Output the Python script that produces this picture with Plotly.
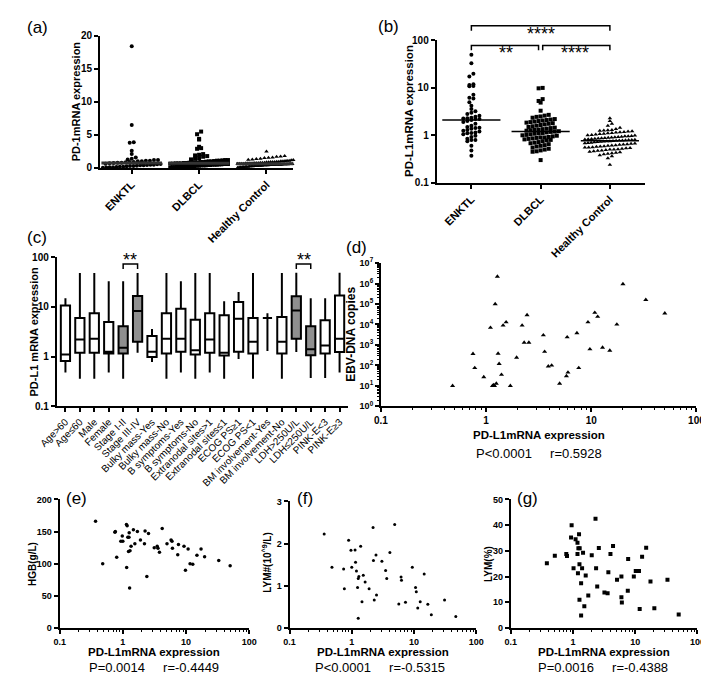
import numpy as np
import plotly.graph_objects as go

W, H = 709, 674


def fx(p):
    return p / W


def fy(p):
    return 1 - p / H


# ---------------- data ----------------
groups = ["ENKTL", "DLBCL", "Healthy Control"]

pd1_enktl = [18.4, 6.5, 3.9, 3.8, 2.6, 2.1, 1.6, 1.4, 1.3, 1.2, 1.2, 1.1, 1.1, 1.0, 1.0, 0.9,
             0.9, 0.85, 0.8, 0.8, 0.75, 0.7, 0.65, 0.6, 0.55, 0.5, 0.5, 0.45, 0.4, 0.4, 0.35,
             0.3, 0.3, 0.25, 0.2, 0.2, 0.15, 0.1, 0.1, 0.08, 0.05]
pd1_dlbcl = [5.5, 5.1, 4.4, 4.3, 3.2, 3.0, 2.9, 2.1, 2.0, 1.9, 1.8, 1.7, 1.5, 1.4, 1.3, 1.2,
             1.2, 1.15, 1.1, 1.1, 1.05, 1.0, 1.0, 0.95, 0.9, 0.9, 0.85, 0.85, 0.8, 0.8, 0.75,
             0.75, 0.7, 0.7, 0.7, 0.65, 0.65, 0.6, 0.6, 0.6, 0.55, 0.55, 0.5, 0.5, 0.5, 0.45,
             0.45, 0.4, 0.4, 0.4, 0.35, 0.35, 0.3, 0.3, 0.3, 0.25, 0.25, 0.2, 0.2, 0.15, 0.15,
             0.1, 0.1, 0.05]
pd1_hc = [2.5, 1.8, 1.75, 1.7, 1.6, 1.55, 1.5, 1.4, 1.35, 1.3, 1.25, 1.2, 1.2, 1.15, 1.1, 1.1,
          1.05, 1.0, 1.0, 0.95, 0.95, 0.9, 0.9, 0.9, 0.85, 0.85, 0.8, 0.8, 0.8, 0.75, 0.75,
          0.75, 0.7, 0.7, 0.7, 0.7, 0.65, 0.65, 0.65, 0.65, 0.6, 0.6, 0.6, 0.6, 0.6, 0.55,
          0.55, 0.55, 0.55, 0.5, 0.5, 0.5, 0.5, 0.5, 0.45, 0.45, 0.45, 0.45, 0.4, 0.4, 0.4,
          0.4, 0.35, 0.35, 0.35, 0.3, 0.3, 0.3, 0.25, 0.25, 0.25, 0.2, 0.2, 0.2, 0.15, 0.15,
          0.1, 0.1, 0.05]

pdl1_enktl = [50, 33, 20, 17.5, 12, 11.5, 11, 10.8, 7.2, 6.2, 6.0, 5.0, 4.2, 3.6, 3.2, 3.0,
              2.8, 2.6, 2.45, 2.35, 2.3, 2.25, 2.2, 2.2, 2.1, 2.0, 1.9, 1.75, 1.6, 1.5, 1.45,
              1.42, 1.38, 1.3, 1.25, 1.2, 1.15, 1.12, 1.1, 1.05, 0.98, 0.92, 0.85, 0.8, 0.8,
              0.75, 0.6, 0.48, 0.37]
pdl1_dlbcl = [10, 9.8, 5.8, 5.3, 4.9, 3.3, 2.7, 2.6, 2.5, 2.45, 2.35, 2.2, 2.15, 2.1, 2.05, 2.0,
              1.95, 1.9, 1.85, 1.8, 1.75, 1.7, 1.65, 1.6, 1.55, 1.5, 1.45, 1.42, 1.38, 1.35,
              1.32, 1.3, 1.28, 1.25, 1.22, 1.2, 1.18, 1.15, 1.12, 1.1, 1.08, 1.05, 1.02, 1.0,
              0.98, 0.95, 0.92, 0.9, 0.9, 0.88, 0.86, 0.84, 0.82, 0.8, 0.78, 0.75, 0.72, 0.7,
              0.68, 0.65, 0.62, 0.6, 0.58, 0.55, 0.52, 0.5, 0.48, 0.46, 0.45, 0.3]
pdl1_hc = [2.3, 2.0, 1.75, 1.6, 1.45, 1.35, 1.3, 1.28, 1.26, 1.24, 1.22, 1.2, 1.18, 1.16, 1.14,
           1.12, 1.1, 1.08, 1.06, 1.04, 1.02, 1.0, 0.99, 0.97, 0.96, 0.95, 0.93, 0.92, 0.91,
           0.9, 0.89, 0.88, 0.87, 0.86, 0.85, 0.84, 0.83, 0.82, 0.81, 0.8, 0.8, 0.79, 0.78,
           0.78, 0.77, 0.76, 0.75, 0.75, 0.74, 0.73, 0.72, 0.71, 0.7, 0.69, 0.68, 0.67, 0.66,
           0.65, 0.64, 0.63, 0.62, 0.61, 0.6, 0.59, 0.58, 0.57, 0.56, 0.55, 0.55, 0.54, 0.53,
           0.52, 0.51, 0.5, 0.5, 0.49, 0.48, 0.47, 0.46, 0.45, 0.44, 0.43, 0.42, 0.41, 0.4,
           0.38, 0.36, 0.33, 0.24]

clin_cats = ["Age>60", "Age≤60", "Male", "Female", "Stage I-II", "Stage III-IV",
             "Bulky mass-Yes", "Bulky mass-No", "B symptoms-Yes", "B symptoms-No",
             "Extranodal sites>1", "Extranodal sites≤1", "ECOG PS≥1", "ECOG PS<1",
             "BM involvement-Yes", "BM involvement-No", "LDH>250U/L", "LDH≤250U/L",
             "PINK-E<3", "PINK-E≥3"]
clin_min = [0.48, 0.36, 0.36, 0.48, 0.36, 1.2, 0.78, 0.36, 0.48, 0.36, 0.48, 0.36, 0.9, 0.36,
            1.3, 0.36, 1.24, 0.37, 0.37, 0.48]
clin_q1 = [0.82, 1.2, 1.2, 1.15, 1.15, 2.0, 0.98, 1.15, 1.25, 1.1, 1.2, 1.05, 1.25, 1.15,
           6.0, 1.15, 2.3, 1.06, 1.15, 1.24]
clin_med = [1.1, 2.2, 2.3, 1.25, 1.5, 8.3, 1.25, 2.3, 2.3, 1.35, 2.2, 1.2, 5.8, 2.0,
            6.0, 2.0, 8.5, 1.4, 1.67, 2.3]
clin_q3 = [10.7, 6.0, 7.5, 5.0, 4.1, 16.5, 2.6, 7.5, 9.2, 5.5, 7.5, 6.8, 12.5, 6.0,
           6.0, 6.3, 16.4, 4.1, 5.4, 17]
clin_max = [15, 48, 48, 33, 33, 48, 3.6, 48, 33, 48, 48, 13, 20, 48, 7.5, 48, 49, 15, 15, 49]
clin_shaded = [4, 5, 16, 17]

ebv_x = [0.48, 0.75, 0.78, 0.95, 1.1, 1.15, 1.18, 1.2, 1.22, 1.25, 1.28, 1.3, 1.33, 1.4, 1.45,
         1.55, 1.7, 1.95, 2.2, 2.3, 2.45, 2.55, 3.5, 3.6, 3.9, 4.2, 5.0, 5.8, 5.9, 6.0, 7.3,
         7.6, 9.3, 9.7, 10.8, 11.5, 12.8, 15, 17.5, 20, 33, 50]
ebv_y = [10, 370, 75, 27, 7000, 10, 11, 10, 100000, 13, 2200000, 380, 120, 35, 9000,
         13000, 10, 240, 9000, 1300, 29000, 1300, 3000, 470, 90, 100, 13, 30, 2400, 45, 3800,
         75, 13000, 620, 38000, 24000, 750, 530, 10000, 950000, 160000, 35000]

hgb_x = [0.37, 0.48, 0.75, 0.76, 0.8, 0.93, 0.98, 1.0, 1.14, 1.15, 1.17, 1.2, 1.23, 1.25,
         1.26, 1.28, 1.3, 1.35, 1.47, 1.55, 1.7, 1.9, 2.2, 2.25, 2.4, 2.55, 3.14, 3.5, 3.6,
         3.8, 4.2, 5.0, 5.8, 6.0, 6.1, 7.4, 7.6, 9.3, 9.8, 10.8, 11.6, 12.8, 14.9, 17.3,
         19.7, 33, 50]
hgb_y = [166, 100, 149, 150, 110, 135, 143, 135, 161, 94, 159, 141, 119, 141, 148, 62, 120,
         127, 153, 131, 150, 137, 131, 151, 80, 147, 125, 127, 124, 118, 155, 131, 137, 135,
         124, 114, 130, 127, 90, 123, 100, 99, 113, 123, 111, 105, 97]

lym_x = [0.36, 0.48, 0.74, 0.76, 0.89, 0.97, 1.0, 1.13, 1.15, 1.19, 1.27, 1.24, 1.3, 1.39,
         1.53, 1.64, 1.46, 1.9, 1.27, 2.2, 2.23, 2.3, 2.45, 3.05, 2.5, 3.5, 3.65, 4.1, 4.9,
         5.7, 6.2, 6.3, 7.3, 9.4, 10.6, 10.9, 11.5, 12.6, 14.6, 16.7, 19, 31, 47]
lym_y = [2.23, 1.44, 1.4, 0.93, 2.08, 1.84, 1.44, 1.85, 1.56, 1.35, 1.17, 0.96, 1.22, 1.94,
         1.25, 1.09, 0.62, 0.93, 0.23, 2.38, 1.6, 0.66, 1.73, 1.58, 0.78, 1.36, 1.17, 1.79,
         2.45, 0.57, 1.21, 1.13, 0.61, 1.44, 0.96, 0.86, 0.47, 0.62, 1.28, 0.56, 0.31, 0.66,
         0.27]

lymp_x = [0.38, 0.51, 0.78, 0.8, 0.93, 0.95, 1.02, 1.1, 1.18, 1.18, 1.2, 1.22, 1.25, 1.28,
          1.27, 1.27, 1.35, 1.35, 1.4, 1.45, 1.52, 1.6, 1.76, 2.0, 2.3, 2.35, 2.45, 2.6, 3.2,
          3.6, 3.7, 4.0, 4.4, 5.1, 6.0, 6.0, 6.1, 7.6, 7.7, 9.5, 10.2, 11.5, 11.8, 12.9, 15,
          17.6, 20.3, 33, 50]
lymp_y = [25.2, 28.1, 28.8, 28, 35.2, 40, 23.2, 34.5, 33.2, 28.8, 21.3, 31, 36.5, 31, 24.8,
          11, 4.8, 17.4, 23.2, 29.3, 8.4, 20.4, 12.6, 28.3, 42.5, 23.2, 16.1, 31.1, 13.8,
          13.5, 21.7, 28.8, 31.9, 18.8, 20, 11.9, 9.9, 14.5, 26.8, 20, 22.2, 22.2, 7.4, 27.7,
          31.2, 18.1, 7.7, 18.8, 5.2]

# ---------------- helpers ----------------
FONT = "Arial, Liberation Sans, sans-serif"
BOLD = dict(family=FONT, size=10, color="black", weight="bold")
SMALL = dict(family=FONT, size=9, color="black", weight="bold")


def swarm(vals, ppu, d=4.2, half=28.0, log=False):
    v = np.log10(vals) if log else np.asarray(vals, float)
    bins = np.floor(v * ppu / d)
    off = np.zeros(len(v))
    for b in np.unique(bins):
        idx = np.where(bins == b)[0]
        idx = idx[np.argsort(v[idx])]
        n = len(idx)
        if n > 1:
            step = min(d, 2 * half / (n - 1))
            off[idx] = (np.arange(n) - (n - 1) / 2) * step
    return off


def axstyle(**kw):
    base = dict(showline=True, linecolor="black", linewidth=2, ticks="outside", ticklen=4,
                tickwidth=2, tickcolor="black", showgrid=False, zeroline=False,
                tickfont=BOLD)
    base.update(kw)
    return base


def logminor(lo, hi):
    return [m * 10.0 ** k for k in range(lo, hi) for m in range(2, 10)]


fig = go.Figure()
symbols = ["circle", "square", "triangle-up"]

# (a) PD-1
for gi, vals in enumerate([pd1_enktl, pd1_dlbcl, pd1_hc]):
    off = swarm(vals, 6.75, half=30)
    fig.add_trace(go.Scatter(x=gi + off / 70.0, y=vals, mode="markers", xaxis="x", yaxis="y",
                             marker=dict(symbol=symbols[gi], size=4, color="black"),
                             cliponaxis=False, showlegend=False))
    med = float(np.median(vals))
    fig.add_trace(go.Scatter(x=[gi - 0.45, gi + 0.45], y=[med, med], mode="lines",
                             xaxis="x", yaxis="y", line=dict(color="#333", width=3),
                             showlegend=False))

# (b) PD-L1
for gi, vals in enumerate([pdl1_enktl, pdl1_dlbcl, pdl1_hc]):
    off = swarm(vals, 48.3, half=26, log=True)
    fig.add_trace(go.Scatter(x=gi + off / 72.0, y=vals, mode="markers", xaxis="x2", yaxis="y2",
                             marker=dict(symbol=symbols[gi], size=4, color="black"),
                             cliponaxis=False, showlegend=False))
    med = float(np.median(vals))
    fig.add_trace(go.Scatter(x=[gi - 0.42, gi + 0.42], y=[med, med], mode="lines",
                             xaxis="x2", yaxis="y2", line=dict(color="black", width=1.5),
                             showlegend=False))

# (c) boxes
for shaded in (False, True):
    idx = [i for i in range(len(clin_cats)) if (i in clin_shaded) == shaded]
    fig.add_trace(go.Box(
        x=idx, q1=[clin_q1[i] for i in idx], median=[clin_med[i] for i in idx],
        q3=[clin_q3[i] for i in idx], lowerfence=[clin_min[i] for i in idx],
        upperfence=[clin_max[i] for i in idx], xaxis="x3", yaxis="y3",
        fillcolor="#8f8f8f" if shaded else "white", line=dict(color="black", width=2),
        whiskerwidth=0, width=0.64, boxpoints=False, showlegend=False))

# (d)-(g) scatters
fig.add_trace(go.Scatter(x=ebv_x, y=ebv_y, mode="markers", xaxis="x4", yaxis="y4",
                         marker=dict(symbol="triangle-up", size=4.5, color="black"),
                         showlegend=False))
fig.add_trace(go.Scatter(x=hgb_x, y=hgb_y, mode="markers", xaxis="x5", yaxis="y5",
                         marker=dict(symbol="circle", size=3.5, color="black"),
                         showlegend=False))
fig.add_trace(go.Scatter(x=lym_x, y=lym_y, mode="markers", xaxis="x6", yaxis="y6",
                         marker=dict(symbol="circle", size=3, color="black"),
                         showlegend=False))
fig.add_trace(go.Scatter(x=lymp_x, y=lymp_y, mode="markers", xaxis="x7", yaxis="y7",
                         marker=dict(symbol="square", size=4, color="black"),
                         showlegend=False))


def logx(font):
    return dict(type="log", range=[-1, 2], tickmode="array", tickvals=[0.1, 1, 10, 100],
                ticktext=["0.1", "1", "10", "100"], tickfont=font,
                minor=dict(ticks="outside", tickmode="array", tickvals=logminor(-1, 2),
                           ticklen=2, tickwidth=1, tickcolor="black"))


logy3 = dict(type="log", range=[-1, 2], tickmode="array", tickvals=[0.1, 1, 10, 100],
             ticktext=["0.1", "1", "10", "100"])

fig.update_layout(
    width=W, height=H, margin=dict(l=0, r=0, t=0, b=0),
    plot_bgcolor="white", paper_bgcolor="white", showlegend=False,
    font=dict(family=FONT, color="black"),
    xaxis=axstyle(domain=[fx(77), fx(278)], range=[-0.47, 2.4], anchor="y", tickmode="array",
                  tickvals=[0, 1, 2], ticktext=groups, tickangle=-45,
                  tickfont=dict(BOLD, size=11)),
    yaxis=axstyle(domain=[fy(156), fy(21)], range=[0, 20], anchor="x", dtick=5),
    xaxis2=axstyle(domain=[fx(427), fx(643)], range=[-0.5, 2.5], anchor="y2", tickmode="array",
                   tickvals=[0, 1, 2], ticktext=groups, tickangle=-45,
                   tickfont=dict(BOLD, size=11)),
    yaxis2=axstyle(domain=[fy(171), fy(26)], anchor="x2", **logy3),
    xaxis3=axstyle(domain=[fx(32), fx(335)], range=[-0.6, 19.6], anchor="y3",
                   tickmode="array", tickvals=list(range(len(clin_cats))), ticktext=clin_cats,
                   tickangle=-45, tickfont=dict(family=FONT, size=10, color="black")),
    yaxis3=axstyle(domain=[fy(399), fy(247)], anchor="x3", **logy3),
    xaxis4=axstyle(domain=[fx(369), fx(697)], anchor="y4", **logx(BOLD)),
    yaxis4=axstyle(domain=[fy(399), fy(253)], anchor="x4", type="log", range=[0, 7],
                   tickmode="array", tickvals=[10 ** k for k in range(8)],
                   ticktext=["10<sup>%d</sup>" % k for k in range(8)], tickfont=SMALL,
                   minor=dict(ticks="outside", tickmode="array", tickvals=logminor(0, 7),
                              ticklen=2, tickwidth=1, tickcolor="black")),
    xaxis5=axstyle(domain=[fx(35), fx(232)], anchor="y5", **logx(SMALL)),
    yaxis5=axstyle(domain=[fy(625), fy(494)], anchor="x5", range=[0, 200], dtick=50,
                   tickfont=SMALL),
    xaxis6=axstyle(domain=[fx(274), fx(468)], anchor="y6", **logx(SMALL)),
    yaxis6=axstyle(domain=[fy(625), fy(496)], anchor="x6", range=[0, 3], dtick=1,
                   tickfont=SMALL),
    xaxis7=axstyle(domain=[fx(504), fx(698)], anchor="y7", **logx(SMALL)),
    yaxis7=axstyle(domain=[fy(625), fy(494)], anchor="x7", range=[0, 50], dtick=10,
                   tickfont=SMALL),
)


# significance brackets
def bracket(xref, x0, x1, ytop, drop):
    fig.add_shape(type="path", xref=xref, yref="paper",
                  path="M %f,%f L %f,%f L %f,%f L %f,%f" % (
                      x0, fy(ytop + drop), x0, fy(ytop), x1, fy(ytop), x1, fy(ytop + drop)),
                  line=dict(color="black", width=1.5))


bracket("x2", 0, 2, 11, 5)
bracket("x2", 0, 0.97, 31, 5)
bracket("x2", 1.03, 2, 31, 5)
bracket("x3", 4, 5, 254, 5)
bracket("x3", 16, 17, 254, 5)

ann = []


def text(x, y, s, size=11, bold=False, angle=0):
    f = dict(family=FONT, size=size, color="black")
    if bold:
        f["weight"] = "bold"
    ann.append(dict(x=fx(x), y=fy(y), xref="paper", yref="paper", text=s, showarrow=False,
                    font=f, textangle=angle, xanchor="center", yanchor="middle"))


def stars(xref, x, y, s):
    ann.append(dict(x=x, y=fy(y), xref=xref, yref="paper", text=s, showarrow=False,
                    font=dict(family=FONT, size=18, color="black")))


for x, y, s in [(12, 13, "(a)"), (377, 12, "(b)"), (11, 227, "(c)"), (344, 237, "(d)"),
                (53, 493, "(e)"), (290, 493, "(f)"), (521, 493, "(g)")]:
    text(x, y, s, size=17)

stars("x2", 1, 7, "****")
stars("x2", 0.5, 27, "**")
stars("x2", 1.5, 27, "****")
stars("x3", 4.5, 250, "**")
stars("x3", 16.5, 250, "**")

text(52, 88, "PD-1mRNA expression", 11, True, -90)
text(398, 98, "PD-L1mRNA expression", 11.5, True, -90)
text(8, 323, "PD-L1 mRNA expression", 11, True, -90)
text(338, 326, "EBV-DNA copies", 12, True, -90)
text(6, 560, "HGB(g/L)", 10, True, -90)
text(251, 558, "LYM#(10<sup>^9</sup>/L)", 10, True, -90)
text(481, 560, "LYM(%)", 10, True, -90)

sp = "\u00a0" * 5
text(533, 428, "PD-L1mRNA expression", 11.5, True)
text(533, 447, "P<0.0001" + sp + "r=0.5928", 13)
text(133, 650, "PD-L1mRNA expression", 11.5, True)
text(133, 665, "P=0.0014" + sp + "r=-0.4449", 13)
text(371, 650, "PD-L1mRNA expression", 11.5, True)
text(368, 665, "P<0.0001" + sp + "r=-0.5315", 13)
text(601, 650, "PD-L1mRNA expression", 11.5, True)
text(600, 665, "P=0.0016" + sp + "r=-0.4388", 13)

fig.update_layout(annotations=ann)
fig.write_html("out.html")
